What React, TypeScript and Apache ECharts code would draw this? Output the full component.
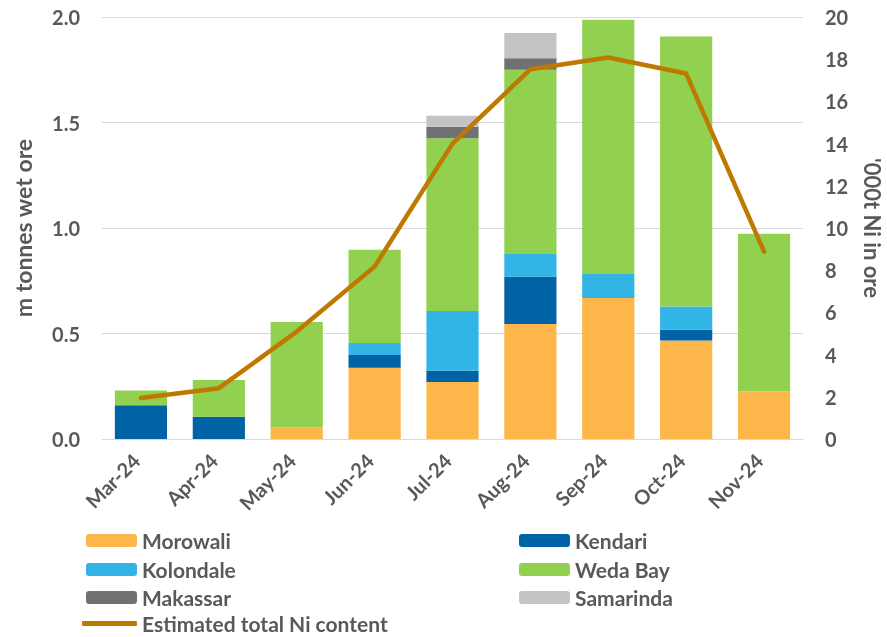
import React, { useEffect, useRef } from "react";
import * as echarts from "echarts";

const categories = ["Mar-24", "Apr-24", "May-24", "Jun-24", "Jul-24", "Aug-24", "Sep-24", "Oct-24", "Nov-24"];
const morowali = [0, 0, 0.055, 0.338, 0.27, 0.545, 0.668, 0.467, 0.226];
const kendari = [0.16, 0.105, 0, 0.06, 0.054, 0.224, 0, 0.051, 0];
const kolondale = [0, 0, 0, 0.057, 0.283, 0.108, 0.114, 0.11, 0];
const wedaBay = [0.07, 0.175, 0.5, 0.442, 0.818, 0.873, 1.205, 1.279, 0.747];
const makassar = [0, 0, 0, 0, 0.055, 0.054, 0, 0, 0];
const samarinda = [0, 0, 0, 0, 0.052, 0.12, 0, 0, 0];
const niContent = [1.94, 2.41, 5.09, 8.17, 14.0, 17.52, 18.08, 17.32, 8.88];
const leftTicks = { min: 0, max: 2, interval: 0.5 };
const rightTicks = { min: 0, max: 20, interval: 2 };

const FONT = "Lato";
const TEXT = "#595959";
const LINE_NAME = "Estimated total Ni content";

export default function App() {
  const ref = useRef<HTMLDivElement>(null);
  useEffect(() => {
    if (!ref.current) return;
    const chart = echarts.init(ref.current, undefined, { renderer: "svg" });
    const bar = (name: string, data: number[], color: string) => ({
      name,
      type: "bar",
      stack: "ore",
      data,
      barWidth: "67%",
      itemStyle: { color },
      yAxisIndex: 0,
    });
    const legendText = { color: TEXT, fontFamily: FONT, fontSize: 21, fontWeight: "bold" };
    const leg = (name: string, left: number, center: number) => ({
      left,
      top: center - 11,
      padding: 0,
      itemWidth: 51,
      itemHeight: 13,
      textStyle: legendText,
      data: [name],
    });
    chart.setOption({
      animation: false,
      textStyle: { fontFamily: FONT },
      grid: { left: 102, right: 84, top: 17, bottom: 198, containLabel: false, outerBoundsMode: "none" },
      legend: [
        leg("Morowali", 86, 541),
        leg("Kolondale", 86, 570),
        leg("Makassar", 86, 598),
        {
          left: 82,
          top: 624 - 11,
          padding: 0,
          itemWidth: 55,
          itemHeight: 5,
          textStyle: legendText,
          data: [{ name: LINE_NAME, icon: "roundRect" }],
        },
        leg("Kendari", 519, 541),
        leg("Weda Bay", 519, 570),
        leg("Samarinda", 519, 598),
      ],
      xAxis: {
        type: "category",
        data: categories,
        axisLine: { lineStyle: { color: "#D9D9D9" } },
        axisTick: { show: false },
        axisLabel: {
          rotate: 45,
          color: TEXT,
          fontFamily: FONT,
          fontSize: 20,
          fontWeight: "bold",
          margin: 13,
          padding: [0, 7, 0, 0],
        },
      },
      yAxis: [
        {
          type: "value",
          ...leftTicks,
          name: "m tonnes wet ore",
          nameLocation: "middle",
          nameGap: 68,
          nameTextStyle: { color: TEXT, fontFamily: FONT, fontSize: 23, fontWeight: "bold" },
          axisLabel: {
            color: TEXT,
            fontFamily: FONT,
            fontSize: 20,
            fontWeight: "bold",
            margin: 22,
            formatter: (v: number) => v.toFixed(1),
          },
          splitLine: { lineStyle: { color: "#D9D9D9" } },
          axisLine: { show: false },
          axisTick: { show: false },
        },
        {
          type: "value",
          ...rightTicks,
          position: "right",
          name: "'000t Ni in ore",
          nameLocation: "middle",
          nameRotate: -90,
          nameGap: 58,
          nameTextStyle: { color: TEXT, fontFamily: FONT, fontSize: 22, fontWeight: "bold" },
          axisLabel: {
            color: TEXT,
            fontFamily: FONT,
            fontSize: 20,
            fontWeight: "bold",
            margin: 22,
          },
          splitLine: { show: false },
          axisLine: { show: false },
          axisTick: { show: false },
        },
      ],
      series: [
        bar("Morowali", morowali, "#FDB64A"),
        bar("Kendari", kendari, "#0063A6"),
        bar("Kolondale", kolondale, "#31B4E6"),
        bar("Weda Bay", wedaBay, "#92D050"),
        bar("Makassar", makassar, "#707172"),
        bar("Samarinda", samarinda, "#C3C4C6"),
        {
          name: LINE_NAME,
          type: "line",
          yAxisIndex: 1,
          data: niContent,
          symbol: "none",
          lineStyle: { color: "#BF7800", width: 4.5, cap: "round", join: "round" },
          itemStyle: { color: "#BF7800" },
        },
      ],
    });
    return () => chart.dispose();
  }, []);
  return (
    <div
      ref={ref}
      style={{ position: "fixed", left: 0, top: 0, width: 887, height: 637 }}
    />
  );
}
